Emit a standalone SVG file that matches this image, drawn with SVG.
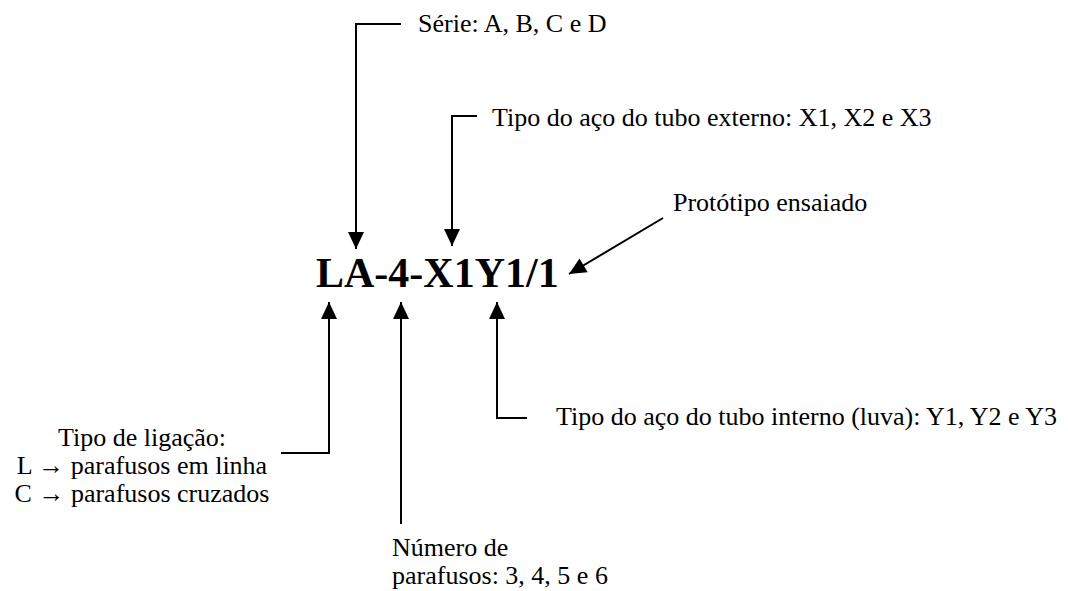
<svg xmlns="http://www.w3.org/2000/svg" width="1068" height="591" viewBox="0 0 1068 591">
<style>
.lbl{font-family:"Liberation Serif","Times New Roman",serif;font-size:26px;fill:#000}
.main{font-family:"Liberation Serif","Times New Roman",serif;font-size:42px;font-weight:bold;fill:#000}
.con{fill:none;stroke:#000;stroke-width:2}
</style>
<defs>
<marker id="ah" markerUnits="userSpaceOnUse" markerWidth="17" markerHeight="16" refX="17" refY="8" orient="auto" overflow="visible">
<path d="M0,0 L17,8 L0,16 Z" fill="#000"/>
</marker>
</defs>
<rect width="1068" height="591" fill="#fff"/>
<g id="connectors">
<polyline class="con" points="401,24 356,24 356,249" marker-end="url(#ah)"/>
<polyline class="con" points="477,116 452,116 452,246" marker-end="url(#ah)"/>
<line class="con" x1="663" y1="218" x2="569" y2="274" marker-end="url(#ah)"/>
<polyline class="con" points="281,453 329,453 329,302" marker-end="url(#ah)"/>
<line class="con" x1="401" y1="524" x2="401" y2="302" marker-end="url(#ah)"/>
<polyline class="con" points="527,418 497,418 497,302" marker-end="url(#ah)"/>
</g>
<g id="code"><text class="main" x="316" y="287">LA-4-X1Y1/1</text></g>
<g id="serie"><text class="lbl" x="418" y="32">Série: A, B, C e D</text></g>
<g id="externo"><text class="lbl" x="492" y="126">Tipo do aço do tubo externo: X1, X2 e X3</text></g>
<g id="prototipo"><text class="lbl" x="673" y="211">Protótipo ensaiado</text></g>
<g id="interno"><text class="lbl" x="556" y="425">Tipo do aço do tubo interno (luva): Y1, Y2 e Y3</text></g>
<g id="ligacao">
<text class="lbl" text-anchor="middle" x="142" y="446">Tipo de ligação:</text>
<text class="lbl" text-anchor="middle" x="142" y="474">L → parafusos em linha</text>
<text class="lbl" text-anchor="middle" x="142" y="502">C → parafusos cruzados</text>
</g>
<g id="numero">
<text class="lbl" x="392" y="556">Número de</text>
<text class="lbl" x="392" y="584">parafusos: 3, 4, 5 e 6</text>
</g>
</svg>
